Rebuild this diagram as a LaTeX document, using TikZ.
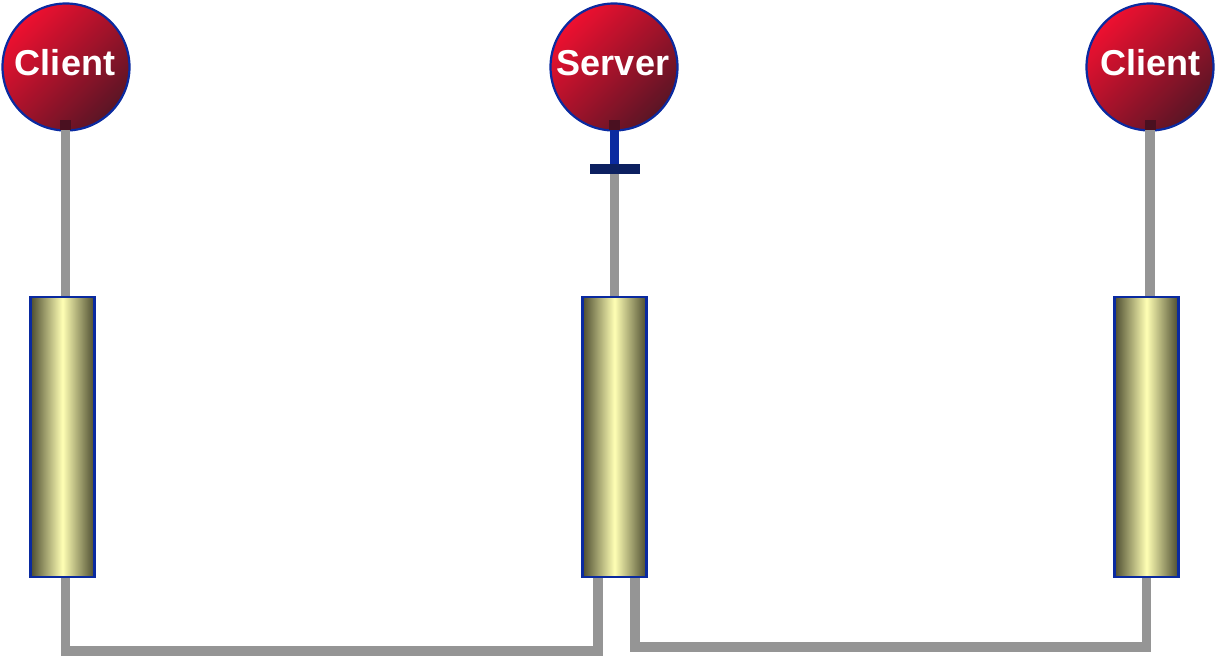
\documentclass[tikz,border=0pt]{standalone}
\usepackage{fontspec}
\setmainfont{Liberation Sans}
\definecolor{cred}{HTML}{EE1030}
\definecolor{cdark}{HTML}{5A1525}
\definecolor{cblue}{HTML}{0A2AA0}
\definecolor{cnavy}{HTML}{0C2060}
\definecolor{colive}{HTML}{4C4C30}
\definecolor{cpale}{HTML}{FFFFB4}
\definecolor{cgray}{HTML}{959595}
\definecolor{cknot}{HTML}{4A1020}
\tikzset{
  host/.style={circle, minimum size=127pt, inner sep=0pt, draw=cblue, line width=2.2pt,
    top color=cred, bottom color=cdark, shading angle=45},
  label/.style={text=white, font=\fontsize{36}{40}\selectfont\bfseries, inner sep=0pt},
  bar/.style={rectangle, minimum width=64pt, minimum height=280pt, inner sep=0pt,
    draw=cblue, line width=2.4pt, left color=colive, right color=colive, middle color=cpale},
  wire/.style={draw=cgray, line width=9.5pt},
  knot/.style={fill=cknot, minimum width=11pt, minimum height=10pt, inner sep=0pt},
}
\begin{document}
\begin{tikzpicture}[x=1pt,y=-1pt]
\useasboundingbox (0,0) rectangle (1216,657);
% circles
\node[host] (c1) at (66,67) {};
\node[host] (s) at (614,67) {};
\node[host] (c2) at (1150,67) {};
\node[label] (c1t) at (65,63) {Client};
\node[label] (st) at (613,63) {Server};
\node[label] (c2t) at (1150,63) {Client};
% bars
\node[bar] (r1) at (62.5,437) {};
\node[bar] (rs) at (614.5,437) {};
\node[bar] (r2) at (1146.5,437) {};
% coordinates
\coordinate (k1) at (65.5,125);
\coordinate (ks) at (614.5,125);
\coordinate (k2) at (1150,125);
\coordinate (tb) at (614.5,169);
\coordinate (b1) at (65.5,651);
\coordinate (bl) at (598,651);
\coordinate (br) at (635,647);
\coordinate (b2) at (1146.5,647);
% top wires
\draw[wire] (k1) -- (r1.north -| k1);
\draw[wire] (k2) -- (r2.north -| k2);
\draw[wire] (tb) -- (rs.north -| tb);
\draw[draw=cblue, line width=9pt] (ks) -- (tb);
\node[fill=cnavy, minimum width=50pt, minimum height=10pt, inner sep=0pt] (tbar) at (tb) {};
\node[knot] (n1) at (k1) {};
\node[knot] (ns) at (ks) {};
\node[knot] (n2) at (k2) {};
% bottom wires
\draw[wire] (r1.south -| b1) -- (b1) -- ([xshift=-2pt]bl);
\draw[wire] (rs.south -| bl) -- ([yshift=-4.5pt]bl);
\draw[wire] (rs.south -| br) -- (br) -- ([xshift=4.5pt]b2);
\draw[wire] (r2.south -| b2) -- ([yshift=-4.5pt]b2);
\end{tikzpicture}
\end{document}
